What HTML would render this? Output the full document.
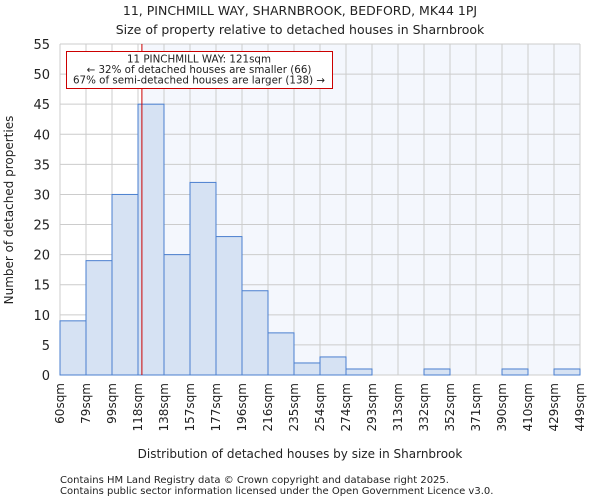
<!DOCTYPE html>
<html><head><meta charset="utf-8"><style>
body{margin:0;background:#fff;font-family:"DejaVu Sans","Liberation Sans",sans-serif}
svg text{font-family:"DejaVu Sans","Liberation Sans",sans-serif;fill:#222}
</style></head><body>
<svg id="chart" width="600" height="500" xmlns="http://www.w3.org/2000/svg">
<text x="300" y="15" font-size="12.5" text-anchor="middle">11, PINCHMILL WAY, SHARNBROOK, BEDFORD, MK44 1PJ</text>
<text x="300" y="34" font-size="12.5" text-anchor="middle">Size of property relative to detached houses in Sharnbrook</text>
<g id="plot"></g>
<text x="300" y="458" font-size="12" text-anchor="middle">Distribution of detached houses by size in Sharnbrook</text>
<text x="13" y="210" font-size="12" text-anchor="middle" transform="rotate(-90 13 210)">Number of detached properties</text>
<text x="60" y="483" font-size="10">Contains HM Land Registry data © Crown copyright and database right 2025.</text>
<text x="60" y="494" font-size="10">Contains public sector information licensed under the Open Government Licence v3.0.</text>
</svg>
<script>
const tickLabels=["60sqm","79sqm","99sqm","118sqm","138sqm","157sqm","177sqm","196sqm","216sqm","235sqm","254sqm","274sqm","293sqm","313sqm","332sqm","352sqm","371sqm","390sqm","410sqm","429sqm","449sqm"];
const counts=[9,19,30,45,20,32,23,14,7,2,3,1,0,0,1,0,0,1,0,1];
const yTicks=[0,5,10,15,20,25,30,35,40,45,50,55];
const subjectBinPos=3.15;
const X0=60,X1=580,Y0=375,Y1=44,YMAX=55;
const bw=(X1-X0)/counts.length;
const xs=i=>X0+i*bw;
const ys=v=>Y0-(Y0-Y1)*v/YMAX;
const NS="http://www.w3.org/2000/svg";
const g=document.getElementById('plot');
function mk(t,a){const e=document.createElementNS(NS,t);for(const k in a)e.setAttribute(k,a[k]);g.appendChild(e);return e;}
const rx=xs(subjectBinPos);
let e=mk('rect',{x:X0,y:Y1,width:rx-X0,height:Y0-Y1,fill:'#ffffff'});


e=mk('rect',{x:rx,y:Y1,width:X1-rx,height:Y0-Y1,fill:'#f4f7fd'});


tickLabels.forEach((t,i)=>{
  const l=mk('line',{x1:xs(i),x2:xs(i),y1:Y1,y2:Y0,stroke:'#cccccc','stroke-width':1});
  
  
  const tx=mk('text',{x:0,y:0,'font-size':12,'text-anchor':'end',transform:`translate(${xs(i)+4},${Y0+8}) rotate(-90)`});
  tx.textContent=t;
  
  
});
yTicks.forEach(v=>{
  const l=mk('line',{x1:X0,x2:X1,y1:ys(v),y2:ys(v),stroke:'#cccccc','stroke-width':1});
  
  
  const tx=mk('text',{x:X0-10,y:ys(v)+5,'font-size':13,'text-anchor':'end'});
  tx.textContent=v;
  
  
});
counts.forEach((c,i)=>{
  if(c<=0)return;
  const r=mk('rect',{x:xs(i),y:ys(c),width:bw,height:Y0-ys(c),fill:'#d6e2f3',stroke:'#4a7fcf','stroke-width':1});
  
  
});
e=mk('line',{x1:rx,x2:rx,y1:Y1,y2:Y0,stroke:'#cc0000','stroke-width':1});


e=mk('rect',{x:66.5,y:51.5,width:266,height:37,fill:'#fff',stroke:'#cc0000','stroke-width':1});


["11 PINCHMILL WAY: 121sqm","← 32% of detached houses are smaller (66)","67% of semi-detached houses are larger (138) →"].forEach((t,i)=>{
  const tx=mk('text',{x:199,y:62.5+i*10.5,'font-size':10.3,'text-anchor':'middle'});
  tx.textContent=t;
  
  
});
</script>
</body></html>
